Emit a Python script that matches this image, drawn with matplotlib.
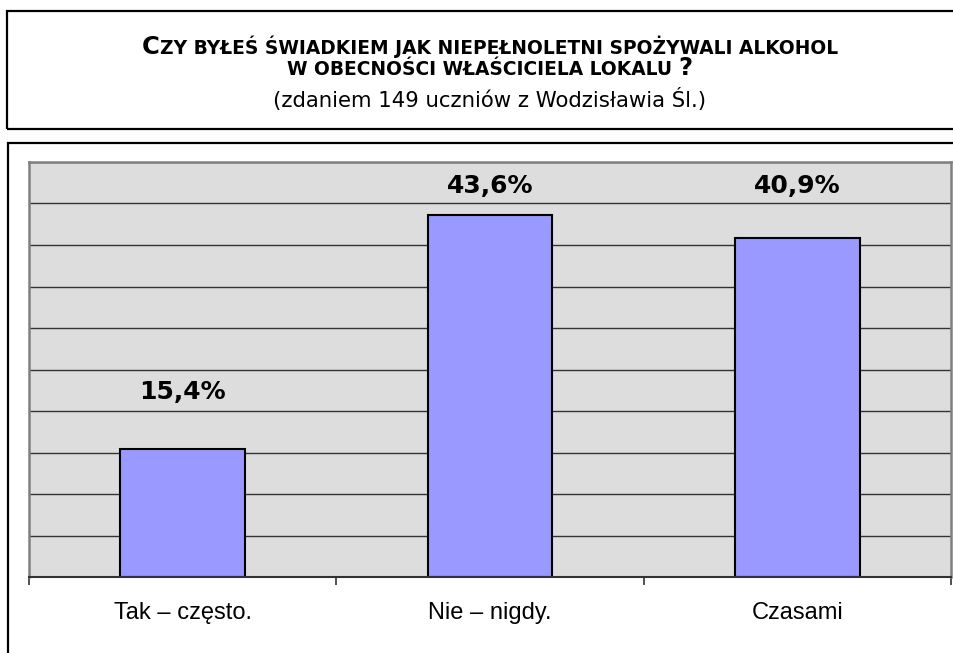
import matplotlib
matplotlib.use('Agg')
import matplotlib.pyplot as plt
from matplotlib.patches import Rectangle

# dane z wykresu
categories = ['Tak – często.', 'Nie – nigdy.', 'Czasami']
values = [15.4, 43.6, 40.9]
value_labels = ['15,4%', '43,6%', '40,9%']
y_max = 50
y_step = 5

W, H = 954, 653
fig = plt.figure(figsize=(W / 100, H / 100), dpi=100)

# ramki tytułu i wykresu (w pikselach -> ułamki figury)
def px_rect(x0, y0, x1, y1, **kw):
    r = Rectangle((x0 / W, 1 - y1 / H), (x1 - x0) / W, (y1 - y0) / H,
                  transform=fig.transFigure, fill=False, **kw)
    fig.add_artist(r)

px_rect(7, 11, 1000, 129, edgecolor='black', linewidth=1.6)
px_rect(8, 143, 1000, 700, edgecolor='black', linewidth=1.6)

# tytuł - kapitaliki składane z kawałków
BIG, SMALL = 17.5, 13.4

def caps_line(y_px, pieces, xc_px=490):
    texts = []
    for s, size in pieces:
        t = fig.text(0, 1 - y_px / H, s, fontsize=size, fontweight='bold',
                     family='DejaVu Sans', ha='left', va='baseline')
        texts.append(t)
    r = fig.canvas.get_renderer()
    widths = [t.get_window_extent(r).width for t in texts]
    x = xc_px - sum(widths) / 2
    for t, w in zip(texts, widths):
        t.set_x(x / W)
        x += w

caps_line(54, [('C', BIG), ('ZY BYŁEŚ ŚWIADKIEM JAK NIEPEŁNOLETNI SPOŻYWALI ALKOHOL', SMALL)])
caps_line(75, [('W OBECNOŚCI WŁAŚCICIELA LOKALU ', SMALL), ('?', BIG)])
fig.text(490 / W, 1 - 107 / H, '(zdaniem 149 uczniów z Wodzisławia Śl.)',
         fontsize=15.3, family='DejaVu Sans', ha='center', va='baseline')

# obszar wykresu
ax = fig.add_axes([29 / W, (H - 577) / H, (951 - 29) / W, (577 - 162) / H])
ax.set_facecolor('#DDDDDD')
x = list(range(len(categories)))
ax.bar(x, values, width=0.405, color='#9999FF', edgecolor='black', linewidth=1.5, zorder=3)

ax.set_xlim(-0.5, len(categories) - 0.5)
ax.set_ylim(0, y_max)
ax.set_yticks(range(0, y_max + 1, y_step))
ax.yaxis.grid(True, color='#333333', linewidth=1.0, zorder=1)
ax.set_axisbelow(True)
ax.tick_params(axis='y', length=0, labelleft=False)

ax.set_xticks(x)
ax.set_xticklabels(categories, fontsize=17, family='Liberation Sans')
ax.set_xticks([i - 0.5 for i in range(len(categories) + 1)], minor=True)
ax.tick_params(axis='x', which='major', length=0, pad=18)
ax.tick_params(axis='x', which='minor', length=6, width=1.2, color='#333333', direction='out')

for sp in ['left', 'top', 'right']:
    ax.spines[sp].set_color('#808080')
    ax.spines[sp].set_linewidth(1.8)
ax.spines['bottom'].set_color('#333333')
ax.spines['bottom'].set_linewidth(1.5)
ax.spines['bottom'].set_zorder(4)

# etykiety wartości
for xi, v, lab in zip(x, values, value_labels):
    ax.text(xi, min(v + 6, 46.3), lab, ha='center', va='baseline',
            fontsize=18, fontweight='bold', family='DejaVu Sans', zorder=5)

fig.savefig('out.png', dpi=100)
